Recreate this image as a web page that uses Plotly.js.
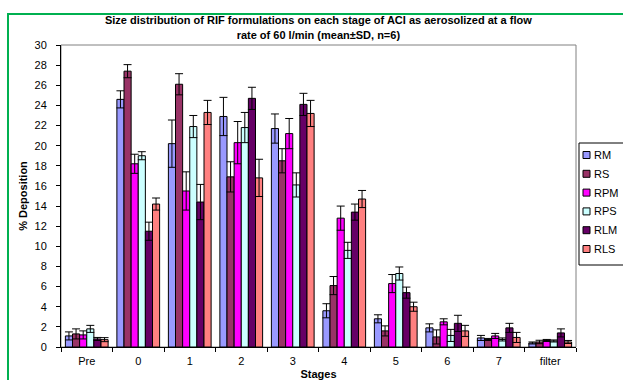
<!DOCTYPE html>
<html>
<head>
<meta charset="utf-8">
<script src="https://cdn.plot.ly/plotly-3.0.1.min.js"></script>
<style>
  html, body { margin: 0; padding: 0; background: #fff; }
  #wrap { position: relative; width: 623px; height: 380px; overflow: hidden; }
  #chart { width: 623px; height: 380px; }
  #frame { position: absolute; left: 7px; top: 13px; width: 640px; height: 400px;
           border-left: 2px solid #00B050; border-top: 2px solid #00B050;
           pointer-events: none; box-sizing: border-box; }
</style>
</head>
<body>
<div id="wrap">
  <div id="chart"></div>
  <div id="frame"></div>
</div>
<script>
const stages = ['Pre', '0', '1', '2', '3', '4', '5', '6', '7', 'filter'];

const seriesNames = ['RM', 'RS', 'RPM', 'RPS', 'RLM', 'RLS'];

const RM     = [1.1, 24.6, 20.2, 22.9, 21.7, 3.6, 2.8, 1.9, 0.9, 0.4];
const RM_sd  = [0.4, 0.85, 2.35, 1.9, 1.45, 0.7, 0.4, 0.4, 0.25, 0.1];
const RS     = [1.3, 27.4, 26.1, 16.9, 18.5, 6.1, 1.6, 1.0, 0.75, 0.5];
const RS_sd  = [0.5, 0.65, 1.05, 1.5, 1.2, 0.9, 0.5, 0.7, 0.1, 0.17];
const RPM    = [1.2, 18.2, 15.5, 20.3, 21.2, 12.8, 6.3, 2.5, 1.1, 0.65];
const RPM_sd = [0.4, 0.95, 1.9, 2.1, 1.5, 1.2, 0.9, 0.3, 0.25, 0.1];
const RPS    = [1.8, 19.0, 21.9, 21.8, 16.1, 9.6, 7.3, 1.15, 0.75, 0.6];
const RPS_sd = [0.35, 0.4, 1.1, 1.5, 1.2, 0.8, 0.65, 0.6, 0.15, 0.1];
const RLM    = [0.8, 11.5, 14.4, 24.7, 24.1, 13.4, 5.4, 2.35, 1.9, 1.4];
const RLM_sd = [0.15, 0.9, 1.75, 1.1, 1.1, 0.8, 0.55, 0.8, 0.45, 0.4];
const RLS    = [0.73, 14.2, 23.3, 16.8, 23.2, 14.7, 4.0, 1.6, 0.95, 0.5];
const RLS_sd = [0.2, 0.6, 1.2, 1.85, 1.3, 0.85, 0.45, 0.55, 0.5, 0.15];

const yTicks = [0, 2, 4, 6, 8, 10, 12, 14, 16, 18, 20, 22, 24, 26, 28, 30];

const colors = ['#9999FF', '#993366', '#FF00FF', '#CCFFFF', '#660066', '#FF8080'];
const values = [RM, RS, RPM, RPS, RLM, RLS];
const sds = [RM_sd, RS_sd, RPM_sd, RPS_sd, RLM_sd, RLS_sd];

const FONT = 'Arial, "Liberation Sans", sans-serif';

// plot-area geometry (px) used to place the legend box in paper coordinates
const W = 623, H = 380;
const M = { l: 61, r: 47, t: 45, b: 33 };
const plotW = W - M.l - M.r, plotH = H - M.t - M.b;
const px2x = px => (px - M.l) / plotW;
const py2y = py => (H - M.b - py) / plotH;

const traces = seriesNames.map((name, i) => ({
  type: 'bar',
  name: name,
  x: stages,
  y: values[i],
  showlegend: false,
  marker: { color: colors[i], line: { color: '#000000', width: 1 } },
  error_y: { type: 'data', array: sds[i], visible: true, color: '#000000', thickness: 1, width: 4 }
}));

// legend (drawn as shapes + annotations, to match the small key squares)
const legendShapes = [
  { type: 'rect', xref: 'paper', yref: 'paper',
    x0: px2x(579), x1: px2x(640), y0: py2y(265), y1: py2y(143),
    fillcolor: '#ffffff', line: { color: '#000000', width: 1 }, layer: 'above' }
];
const legendAnn = [];
seriesNames.forEach((name, i) => {
  const cy = 155 + i * 18.8;
  legendShapes.push({ type: 'rect', xref: 'paper', yref: 'paper',
    x0: px2x(583), x1: px2x(590), y0: py2y(cy + 3.5), y1: py2y(cy - 3.5),
    fillcolor: colors[i], line: { color: '#000000', width: 1 }, layer: 'above' });
  legendAnn.push({ xref: 'paper', yref: 'paper', x: px2x(592), y: py2y(cy),
    xanchor: 'left', yanchor: 'middle', showarrow: false, text: name,
    font: { family: FONT, size: 11, color: '#000000' } });
});

const layout = {
  width: W,
  height: H,
  paper_bgcolor: '#ffffff',
  plot_bgcolor: '#ffffff',
  margin: { l: M.l, r: M.r, t: M.t, b: M.b, autoexpand: false },
  font: { family: FONT, size: 11, color: '#000000' },
  title: {
    text: '<b>Size distribution of RIF formulations on each stage of ACI as aerosolized at a flow<br>rate of 60 l/min (mean±SD, n=6)</b>',
    font: { family: FONT, size: 11, color: '#000000' },
    x: 0.511, xanchor: 'center',
    y: 0.936, yanchor: 'top'
  },
  barmode: 'group',
  bargap: 0.17,
  bargroupgap: 0,
  showlegend: false,
  xaxis: {
    type: 'category',
    showgrid: false,
    zeroline: false,
    showline: true,
    linecolor: '#000000',
    linewidth: 1,
    ticks: 'outside',
    tickson: 'boundaries',
    ticklen: 4,
    tickcolor: '#000000',
    ticklabelstandoff: 4,
    tickfont: { family: FONT, size: 11, color: '#000000' },
    automargin: false,
    title: { text: '<b>Stages</b>', font: { family: FONT, size: 11, color: '#000000' }, standoff: 8 }
  },
  yaxis: {
    range: [0, 30],
    tickvals: yTicks,
    ticktext: yTicks.map(String),
    showgrid: false,
    zeroline: false,
    showline: true,
    linecolor: '#000000',
    linewidth: 1,
    ticks: 'outside',
    ticklen: 4,
    tickcolor: '#000000',
    ticklabelstandoff: 7,
    tickfont: { family: FONT, size: 11, color: '#000000' },
    automargin: false,
    title: { text: '<b>% Deposition</b>', font: { family: FONT, size: 11, color: '#000000' }, standoff: 4 }
  },
  shapes: [
    { type: 'rect', xref: 'paper', yref: 'paper', x0: 0, x1: 1, y0: 0, y1: 1,
      line: { color: '#808080', width: 1 }, layer: 'below' }
  ].concat(legendShapes),
  annotations: legendAnn
};

Plotly.newPlot('chart', traces, layout, { displayModeBar: false, staticPlot: true });
</script>
</body>
</html>
